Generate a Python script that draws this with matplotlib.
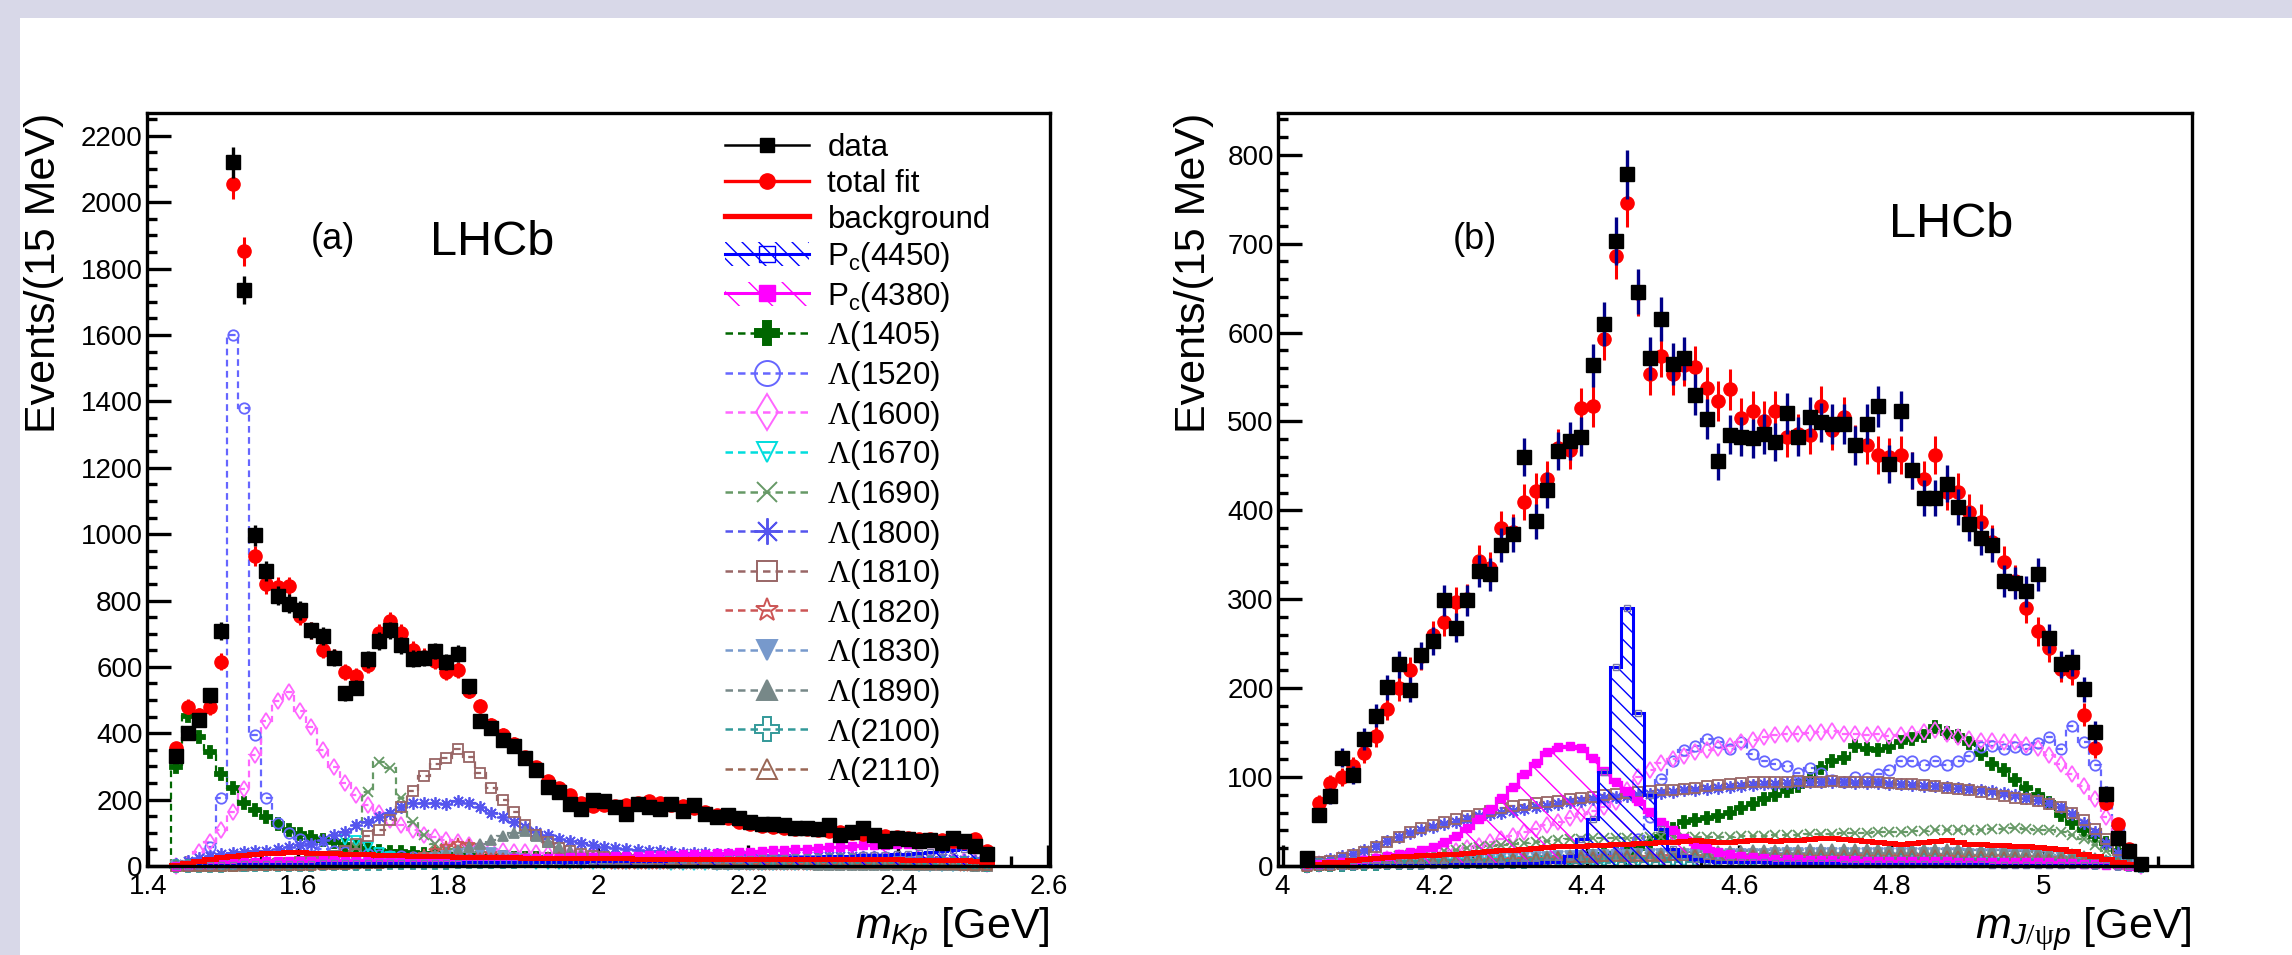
import numpy as np
import matplotlib
matplotlib.use("Agg")
import matplotlib.pyplot as plt
from matplotlib.patches import Patch, Rectangle
from matplotlib.lines import Line2D
from matplotlib.ticker import MultipleLocator, FuncFormatter

plt.rcParams['font.family'] = ['Liberation Sans', 'DejaVu Sans']
plt.rcParams['mathtext.fontset'] = 'custom'
plt.rcParams['mathtext.rm'] = 'Liberation Serif'
plt.rcParams['mathtext.it'] = 'Liberation Sans:italic'
plt.rcParams['mathtext.bf'] = 'Liberation Sans:bold'
plt.rcParams['hatch.linewidth'] = 1.0

# ---------------------------------------------------------------- binning
bin_width = 0.015          # GeV, 15 MeV bins
mkp_first_edge = 1.430     # m(Kp) histogram, 73 bins
mjpsip_first_edge = 4.025  # m(J/psi p) histogram, 74 bins

# ---------------------------------------------------------------- (a) m(Kp)
data_a = [330, 402, 440, 515, 708, 2120, 1735, 996, 890, 815,
          790, 770, 710, 693, 628, 520, 537, 623, 678, 710,
          665, 625, 627, 648, 615, 640, 541, 437, 415, 380,
          362, 325, 290, 238, 224, 188, 173, 198, 196, 177,
          158, 187, 178, 173, 186, 165, 184, 158, 147, 153,
          144, 134, 127, 126, 125, 116, 116, 112, 125, 92,
          103, 116, 92, 76, 84, 80, 75, 77, 70, 83,
          76, 60, 35]
fit_a = [355, 480, 455, 478, 616, 2055, 1852, 935, 849, 841,
         843, 754, 710, 651, 630, 585, 574, 605, 702, 738,
         702, 651, 631, 618, 585, 590, 528, 482, 426, 395,
         369, 328, 297, 256, 236, 215, 190, 180, 185, 180,
         185, 190, 195, 190, 185, 180, 174, 164, 154, 144,
         133, 128, 120, 118, 115, 112, 110, 107, 104, 101,
         99, 96, 93, 90, 87, 84, 82, 80, 78, 76,
         73, 82, 45]
bkg_a = [3, 10, 16, 22, 27, 31, 34, 37, 39, 40,
         41, 41, 40, 39, 38, 37, 36, 35, 34, 33,
         32, 31, 30, 30, 29, 28, 28, 27, 27, 26,
         26, 25, 25, 25, 24, 24, 24, 23, 23, 23,
         23, 22, 22, 22, 22, 22, 21, 21, 21, 21,
         21, 21, 21, 20, 20, 20, 20, 20, 20, 20,
         20, 20, 20, 20, 20, 19, 19, 19, 19, 18,
         17, 15, 8]
pc4450_a = [0, 1, 2, 3, 4, 4, 5, 5, 6, 6,
            7, 7, 7, 8, 8, 8, 8, 9, 9, 9,
            9, 10, 10, 10, 10, 10, 11, 11, 11, 11,
            12, 12, 12, 12, 13, 13, 13, 14, 14, 14,
            15, 15, 16, 16, 17, 17, 18, 18, 19, 20,
            21, 22, 23, 24, 25, 26, 27, 28, 29, 30,
            31, 32, 33, 34, 35, 37, 39, 41, 44, 47,
            51, 48, 25]
pc4380_a = [1, 3, 5, 7, 9, 11, 12, 13, 14, 15,
            15, 16, 16, 17, 17, 17, 18, 18, 18, 19,
            19, 19, 20, 20, 20, 21, 21, 21, 22, 22,
            23, 23, 24, 24, 25, 26, 26, 27, 28, 29,
            30, 31, 32, 33, 34, 35, 36, 37, 39, 40,
            42, 43, 45, 47, 48, 50, 52, 54, 56, 58,
            60, 62, 63, 64, 65, 66, 67, 68, 68, 67,
            66, 60, 30]
lam1405_a = [297, 452, 388, 344, 277, 236, 190, 169, 149, 128,
             108, 97, 87, 77, 72, 62, 56, 51, 46, 43,
             41, 39, 37, 35, 33, 31, 29, 28, 27, 26,
             25, 24, 23, 22, 21, 20, 19, 18, 18, 17,
             17, 16, 16, 15, 15, 14, 14, 13, 13, 13,
             12, 12, 12, 11, 11, 11, 10, 10, 10, 9,
             9, 9, 8, 8, 8, 7, 7, 6, 6, 5,
             5, 4, 2]
lam1520_a = [0, 0, 2, 56, 205, 1600, 1380, 395, 205, 130,
             100, 80, 60, 52, 46, 42, 38, 35, 33, 31,
             29, 27, 26, 25, 24, 23, 22, 21, 20, 20,
             19, 19, 18, 18, 17, 17, 16, 16, 15, 15,
             15, 14, 14, 14, 13, 13, 13, 12, 12, 12,
             11, 11, 11, 10, 10, 10, 10, 9, 9, 9,
             9, 8, 8, 8, 7, 7, 7, 6, 6, 5,
             5, 4, 2]
lam1600_a = [0, 5, 41, 71, 108, 162, 231, 333, 436, 497,
             523, 467, 420, 349, 297, 251, 215, 185, 159, 138,
             123, 108, 92, 87, 77, 72, 62, 55, 50, 46,
             43, 41, 39, 37, 36, 35, 34, 33, 32, 31,
             31, 30, 30, 29, 29, 28, 28, 27, 27, 26,
             26, 25, 25, 24, 24, 23, 23, 22, 22, 21,
             21, 20, 20, 19, 19, 18, 18, 17, 16, 15,
             14, 12, 7]
lam1670_a = [0, 0, 0, 1, 1, 2, 2, 3, 4, 5,
             6, 8, 11, 16, 30, 78, 74, 58, 40, 28,
             22, 18, 15, 13, 12, 11, 10, 9, 9, 8,
             8, 8, 7, 7, 7, 6, 6, 6, 6, 5,
             5, 5, 5, 5, 4, 4, 4, 4, 4, 4,
             3, 3, 3, 3, 3, 3, 3, 3, 2, 2,
             2, 2, 2, 2, 2, 2, 1, 1, 1, 1,
             1, 1, 0]
lam1690_a = [0, 0, 1, 2, 3, 4, 5, 6, 7, 8,
             9, 11, 13, 16, 20, 26, 58, 222, 312, 294,
             205, 133, 92, 67, 52, 42, 35, 30, 26, 23,
             20, 18, 17, 16, 15, 14, 13, 12, 12, 11,
             11, 10, 10, 10, 9, 9, 9, 8, 8, 8,
             8, 7, 7, 7, 7, 6, 6, 6, 6, 6,
             5, 5, 5, 5, 5, 4, 4, 4, 4, 3,
             3, 2, 1]
lam1800_a = [5, 15, 25, 31, 36, 38, 41, 44, 46, 51,
             56, 62, 67, 77, 92, 103, 123, 133, 149, 159,
             179, 190, 190, 190, 187, 195, 190, 179, 159, 149,
             133, 118, 103, 92, 82, 74, 68, 63, 58, 54,
             51, 48, 46, 44, 42, 40, 39, 38, 37, 36,
             35, 34, 33, 33, 32, 31, 31, 30, 30, 29,
             29, 28, 28, 27, 27, 26, 25, 24, 23, 21,
             18, 14, 8]
lam1810_a = [0, 0, 0, 1, 1, 2, 2, 3, 4, 6,
             8, 11, 15, 20, 30, 45, 65, 90, 108, 138,
             179, 226, 270, 306, 324, 352, 327, 280, 236, 200,
             163, 123, 92, 72, 55, 44, 36, 30, 26, 23,
             21, 19, 17, 16, 15, 14, 13, 12, 12, 11,
             10, 10, 9, 9, 8, 8, 8, 7, 7, 7,
             6, 6, 6, 5, 5, 5, 4, 4, 4, 3,
             3, 2, 1]
lam1820_a = [0, 0, 0, 0, 1, 1, 1, 2, 2, 2,
             3, 3, 4, 4, 5, 6, 7, 8, 10, 13,
             17, 23, 32, 45, 58, 66, 62, 48, 35, 26,
             20, 16, 13, 11, 10, 9, 9, 8, 8, 7,
             7, 7, 6, 6, 6, 6, 5, 5, 5, 5,
             5, 4, 4, 4, 4, 4, 4, 3, 3, 3,
             3, 3, 3, 3, 2, 2, 2, 2, 2, 2,
             1, 1, 1]
lam1830_a = [0, 0, 0, 0, 0, 1, 1, 1, 1, 2,
             2, 2, 3, 3, 4, 4, 5, 6, 7, 9,
             11, 14, 18, 23, 29, 35, 40, 42, 38, 31,
             25, 20, 16, 13, 11, 10, 9, 8, 8, 7,
             7, 6, 6, 6, 5, 5, 5, 5, 4, 4,
             4, 4, 4, 3, 3, 3, 3, 3, 3, 2,
             2, 2, 2, 2, 2, 2, 1, 1, 1, 1,
             1, 1, 0]
lam1890_a = [0, 0, 0, 0, 1, 1, 1, 2, 2, 3,
             3, 4, 5, 6, 7, 8, 10, 12, 14, 17,
             20, 24, 28, 33, 40, 48, 57, 67, 78, 90,
             98, 106, 90, 72, 57, 45, 36, 29, 24, 20,
             16, 14, 12, 11, 10, 9, 8, 8, 7, 7,
             6, 6, 6, 5, 5, 5, 5, 4, 4, 4,
             4, 4, 3, 3, 3, 3, 3, 3, 2, 2,
             2, 1, 1]
lam2100_a = [0, 0, 1, 1, 1, 2, 2, 2, 3, 3,
             3, 4, 4, 5, 5, 6, 6, 7, 7, 8,
             8, 9, 9, 10, 10, 11, 11, 12, 12, 13,
             13, 14, 14, 15, 15, 16, 16, 17, 17, 17,
             18, 18, 18, 18, 19, 19, 19, 19, 19, 19,
             19, 19, 19, 18, 18, 18, 17, 17, 17, 16,
             16, 15, 15, 14, 14, 13, 12, 11, 10, 9,
             8, 6, 3]
lam2110_a = [0, 0, 0, 1, 1, 1, 2, 2, 2, 3,
             3, 4, 4, 5, 6, 7, 8, 9, 10, 12,
             13, 15, 16, 18, 19, 21, 22, 23, 24, 25,
             26, 26, 27, 27, 27, 27, 27, 26, 26, 25,
             25, 24, 23, 22, 22, 21, 20, 19, 18, 17,
             17, 16, 15, 14, 14, 13, 12, 12, 11, 10,
             10, 9, 9, 8, 8, 7, 7, 6, 6, 5,
             4, 3, 2]

# ---------------------------------------------------------------- (b) m(J/psi p)
data_b = [9, 57, 79, 122, 102, 143, 169, 201, 227, 198,
          237, 253, 299, 268, 299, 332, 328, 361, 373, 460,
          388, 423, 467, 478, 483, 563, 610, 703, 778, 646,
          571, 615, 565, 571, 530, 503, 455, 485, 483, 481,
          486, 477, 509, 483, 505, 499, 497, 497, 473, 497,
          517, 452, 512, 445, 414, 414, 430, 404, 385, 369,
          361, 321, 318, 309, 328, 256, 227, 229, 199, 151,
          81, 32, 17, 2]
fit_b = [6, 71, 93, 100, 112, 127, 146, 177, 200, 220,
         236, 260, 275, 297, 300, 343, 335, 380, 376, 410,
         422, 435, 470, 468, 515, 517, 593, 686, 746, 644,
         553, 574, 553, 564, 561, 538, 523, 536, 504, 512,
         501, 512, 482, 486, 485, 517, 490, 505, 474, 474,
         462, 460, 462, 445, 435, 462, 421, 421, 398, 387,
         365, 342, 321, 290, 264, 245, 222, 218, 170, 133,
         71, 47, 19, 2]
bkg_b = [1, 2, 4, 5, 7, 8, 9, 10, 11, 11,
         12, 12, 13, 14, 15, 16, 17, 18, 18, 19,
         20, 21, 22, 23, 23, 24, 24, 25, 25, 26,
         26, 27, 27, 28, 29, 28, 27, 27, 28, 29,
         29, 28, 29, 29, 30, 31, 32, 30, 29, 28,
         27, 26, 25, 26, 27, 28, 29, 27, 25, 25,
         24, 24, 23, 22, 21, 20, 19, 17, 14, 11,
         8, 5, 2, 0]
pc4450_b = [0, 0, 0, 0, 0, 1, 1, 1, 1, 1,
            1, 1, 1, 2, 2, 2, 2, 2, 3, 3,
            3, 4, 5, 11, 30, 53, 106, 224, 290, 172,
            80, 42, 19, 11, 8, 6, 5, 5, 4, 4,
            4, 3, 3, 3, 3, 3, 3, 2, 2, 2,
            2, 2, 2, 2, 2, 2, 2, 2, 2, 2,
            1, 1, 1, 1, 1, 1, 1, 1, 1, 1,
            1, 0, 0, 0]
pc4380_b = [1, 2, 3, 4, 5, 7, 9, 11, 13, 16,
            18, 21, 27, 34, 43, 53, 64, 76, 89, 103,
            116, 128, 134, 135, 133, 121, 107, 94, 84, 73,
            61, 49, 40, 31, 25, 20, 16, 13, 11, 10,
            9, 8, 8, 8, 7, 7, 7, 7, 7, 6,
            6, 6, 6, 6, 6, 6, 6, 5, 5, 5,
            5, 5, 4, 4, 4, 4, 3, 3, 2, 2,
            1, 1, 0, 0]
lam1405_b = [0, 1, 1, 1, 2, 2, 2, 3, 3, 3,
             4, 4, 4, 5, 5, 5, 6, 6, 6, 7,
             7, 8, 8, 9, 10, 11, 12, 14, 16, 20,
             26, 33, 42, 49, 52, 54, 56, 60, 65, 70,
             75, 80, 84, 90, 98, 110, 118, 122, 135, 132,
             131, 134, 140, 143, 146, 156, 150, 146, 138, 126,
             115, 108, 97, 88, 80, 71, 57, 48, 40, 34,
             26, 17, 8, 0]
lam1520_b = [2, 3, 3, 3, 4, 4, 4, 4, 5, 5,
             5, 5, 5, 6, 6, 6, 6, 6, 7, 7,
             7, 8, 8, 8, 9, 10, 12, 15, 20, 30,
             55, 98, 118, 130, 135, 143, 140, 132, 139, 126,
             118, 115, 112, 105, 110, 105, 97, 95, 100, 99,
             103, 108, 118, 118, 114, 118, 114, 118, 124, 134,
             135, 132, 134, 132, 138, 145, 132, 158, 140, 114,
             80, 45, 15, 0]
lam1600_b = [1, 2, 3, 4, 5, 6, 7, 8, 9, 10,
             11, 13, 15, 17, 20, 23, 27, 30, 34, 38,
             42, 46, 50, 54, 58, 62, 66, 72, 85, 100,
             108, 116, 120, 124, 128, 130, 133, 135, 140, 142,
             145, 147, 148, 148, 150, 151, 152, 149, 148, 147,
             148, 146, 147, 149, 151, 153, 149, 145, 143, 141,
             141, 140, 139, 136, 133, 125, 115, 103, 90, 75,
             55, 32, 12, 0]
lam1670_b = [0, 1, 1, 1, 1, 2, 2, 2, 2, 2,
             3, 3, 3, 3, 3, 3, 4, 4, 4, 4,
             4, 4, 4, 4, 5, 5, 5, 5, 5, 5,
             5, 5, 5, 5, 5, 5, 5, 5, 5, 5,
             5, 5, 5, 5, 5, 5, 5, 5, 5, 5,
             5, 5, 5, 5, 5, 5, 5, 5, 4, 4,
             4, 4, 4, 4, 4, 3, 3, 3, 3, 2,
             2, 1, 1, 0]
lam1690_b = [1, 2, 3, 4, 5, 6, 8, 9, 11, 12,
             14, 15, 17, 18, 20, 21, 22, 24, 25, 26,
             27, 28, 29, 30, 30, 31, 31, 32, 32, 32,
             33, 33, 33, 33, 33, 33, 33, 33, 34, 34,
             34, 35, 35, 35, 36, 36, 36, 37, 37, 37,
             38, 38, 38, 39, 39, 40, 40, 40, 41, 41,
             42, 42, 43, 42, 41, 40, 38, 35, 30, 24,
             17, 10, 4, 0]
lam1800_b = [3, 5, 8, 11, 14, 18, 23, 28, 33, 37,
             41, 44, 47, 50, 53, 56, 58, 60, 62, 64,
             66, 68, 70, 72, 73, 75, 76, 78, 79, 80,
             81, 82, 83, 85, 86, 87, 88, 89, 90, 91,
             92, 92, 93, 93, 94, 94, 94, 94, 93, 93,
             93, 92, 92, 91, 90, 90, 89, 88, 87, 85,
             84, 82, 80, 77, 74, 71, 66, 58, 48, 38,
             26, 15, 6, 0]
lam1810_b = [2, 4, 6, 9, 12, 16, 21, 27, 33, 38,
             43, 46, 49, 53, 56, 59, 62, 65, 67, 69,
             71, 72, 73, 75, 76, 78, 80, 81, 82, 83,
             84, 85, 86, 87, 88, 90, 91, 92, 93, 94,
             95, 95, 95, 96, 95, 95, 96, 95, 94, 95,
             94, 93, 92, 92, 91, 90, 88, 87, 85, 83,
             81, 79, 77, 75, 73, 70, 66, 60, 52, 42,
             30, 18, 7, 0]
lam1820_b = [0, 1, 1, 2, 2, 2, 3, 3, 3, 4,
             4, 4, 5, 5, 5, 6, 6, 6, 7, 7,
             7, 7, 8, 8, 8, 8, 9, 9, 9, 9,
             9, 10, 10, 10, 10, 10, 10, 10, 10, 10,
             11, 11, 11, 11, 11, 11, 11, 11, 11, 11,
             11, 11, 11, 11, 11, 11, 11, 10, 10, 10,
             10, 10, 9, 9, 9, 8, 8, 7, 6, 5,
             4, 3, 1, 0]
lam1830_b = [0, 1, 1, 2, 2, 3, 3, 4, 4, 5,
             5, 6, 6, 7, 7, 8, 8, 9, 9, 10,
             10, 10, 11, 11, 11, 12, 12, 12, 12, 13,
             13, 13, 13, 13, 14, 14, 14, 14, 14, 14,
             14, 15, 15, 15, 15, 15, 15, 15, 15, 15,
             15, 15, 15, 15, 15, 15, 15, 15, 14, 14,
             14, 14, 13, 13, 13, 12, 11, 10, 9, 7,
             5, 3, 1, 0]
lam1890_b = [0, 1, 1, 2, 2, 3, 3, 4, 4, 5,
             5, 6, 6, 7, 7, 8, 8, 9, 9, 10,
             10, 11, 11, 12, 12, 13, 13, 14, 14, 15,
             15, 15, 16, 16, 16, 17, 17, 17, 17, 18,
             18, 18, 18, 18, 19, 19, 19, 19, 19, 19,
             19, 19, 19, 19, 19, 19, 19, 19, 18, 18,
             18, 18, 17, 17, 16, 15, 14, 13, 11, 9,
             7, 4, 2, 0]
lam2100_b = [0, 1, 1, 1, 2, 2, 2, 3, 3, 3,
             3, 4, 4, 4, 4, 5, 5, 5, 5, 5,
             6, 6, 6, 6, 6, 6, 6, 7, 7, 7,
             7, 7, 7, 7, 7, 7, 7, 7, 7, 7,
             7, 7, 7, 7, 7, 7, 7, 7, 7, 7,
             7, 7, 7, 7, 7, 7, 7, 7, 6, 6,
             6, 6, 6, 6, 5, 5, 5, 4, 4, 3,
             3, 2, 1, 0]
lam2110_b = [0, 1, 1, 2, 2, 3, 3, 4, 4, 5,
             5, 6, 6, 7, 7, 7, 8, 8, 8, 9,
             9, 9, 10, 10, 10, 10, 11, 11, 11, 11,
             11, 11, 12, 12, 12, 12, 12, 12, 12, 12,
             12, 12, 12, 12, 12, 12, 12, 12, 12, 12,
             12, 12, 12, 12, 12, 12, 11, 11, 11, 11,
             10, 10, 10, 9, 9, 8, 8, 7, 6, 5,
             4, 3, 1, 0]

lambda_names = ['1405', '1520', '1600', '1670', '1690', '1800',
                '1810', '1820', '1830', '1890', '2100', '2110']
lambdas_a = [lam1405_a, lam1520_a, lam1600_a, lam1670_a, lam1690_a, lam1800_a,
             lam1810_a, lam1820_a, lam1830_a, lam1890_a, lam2100_a, lam2110_a]
lambdas_b = [lam1405_b, lam1520_b, lam1600_b, lam1670_b, lam1690_b, lam1800_b,
             lam1810_b, lam1820_b, lam1830_b, lam1890_b, lam2100_b, lam2110_b]

# ---------------------------------------------------------------- styles
LAMBDA_STYLE = {
    '1405': dict(color='#006600', marker='P', filled=True, ms=8, legend_ms=17),
    '1520': dict(color='#6666ff', marker='o', filled=False, ms=7.5, legend_ms=18),
    '1600': dict(color='#ff66ff', marker='d', filled=False, ms=8, legend_ms=18),
    '1670': dict(color='#00dddd', marker='v', filled=False, ms=7, legend_ms=15),
    '1690': dict(color='#669966', marker='x', filled=False, ms=7, legend_ms=14),
    '1800': dict(color='#5555ee', marker=(8, 2, 0), filled=False, ms=9, legend_ms=19),
    '1810': dict(color='#996666', marker='s', filled=False, ms=7, legend_ms=15),
    '1820': dict(color='#cc5555', marker='*', filled=False, ms=9, legend_ms=17),
    '1830': dict(color='#7799cc', marker='v', filled=True, ms=7, legend_ms=14),
    '1890': dict(color='#778888', marker='^', filled=True, ms=7, legend_ms=14),
    '2100': dict(color='#339999', marker='P', filled=False, ms=8, legend_ms=17),
    '2110': dict(color='#996655', marker='^', filled=False, ms=7, legend_ms=15),
}
DASH = (0, (3, 2))
PC4450_COLOR = '#0000ff'
PC4380_COLOR = '#ff00ff'


def draw_panel(ax, first_edge, data, fit, bkg, pc4450, pc4380, lambdas, err_color):
    nbins = len(data)
    edges = first_edge + bin_width * np.arange(nbins + 1)
    centers = 0.5 * (edges[:-1] + edges[1:])

    for name, vals in zip(lambda_names, lambdas):
        st = LAMBDA_STYLE[name]
        ax.stairs(vals, edges, color=st['color'], ls=DASH, lw=1.6, zorder=2)
        ax.plot(centers, vals, ls='none', marker=st['marker'], ms=st['ms'],
                mec=st['color'], mfc=st['color'] if st['filled'] else 'none',
                mew=1.3, zorder=2.1, clip_on=False)

    # P_c(4380): sparse hatch, magenta outline, filled squares
    ax.stairs(pc4380, edges, fill=True, facecolor='none', edgecolor=PC4380_COLOR,
              hatch='\\', lw=0, zorder=2.5)
    ax.stairs(pc4380, edges, color=PC4380_COLOR, lw=2.4, zorder=3)
    ax.plot(centers, pc4380, ls='none', marker='s', ms=5.5, color=PC4380_COLOR,
            zorder=3, clip_on=False)

    # P_c(4450): dense hatch, blue outline
    ax.stairs(pc4450, edges, fill=True, facecolor='none', edgecolor=PC4450_COLOR,
              hatch='\\\\', lw=0, zorder=2.6)
    ax.stairs(pc4450, edges, color=PC4450_COLOR, lw=2.2, zorder=3.1)
    ax.plot(centers, pc4450, ls='none', marker='s', ms=4, mfc='none',
            mec='#7777aa', mew=1.0, zorder=3.1, clip_on=False)

    # background
    ax.stairs(bkg, edges, color='#ff0000', lw=3.6, zorder=3.5)

    fit = np.asarray(fit, float)
    data = np.asarray(data, float)
    ax.errorbar(centers, fit, yerr=np.sqrt(fit), fmt='o', color='#ff0000', ms=9.5,
                elinewidth=2.2, capsize=0, zorder=4, clip_on=False)
    ax.errorbar(centers, data, yerr=np.sqrt(data), fmt='s', mfc='black', mec='black',
                ecolor=err_color, ms=9.5, elinewidth=2.4, capsize=0, zorder=5,
                clip_on=False)


def style_axes(ax, xlim, ylim, xmajor, ymajor, yminor):
    ax.set_xlim(*xlim)
    ax.set_ylim(*ylim)
    ax.xaxis.set_major_locator(MultipleLocator(xmajor))
    ax.xaxis.set_minor_locator(MultipleLocator(0.05))
    ax.yaxis.set_major_locator(MultipleLocator(ymajor))
    ax.yaxis.set_minor_locator(MultipleLocator(yminor))
    fmt = FuncFormatter(lambda v, p: '%g' % round(v, 6))
    ax.xaxis.set_major_formatter(fmt)
    ax.yaxis.set_major_formatter(fmt)
    for sp in ax.spines.values():
        sp.set_linewidth(2.4)
        sp.set_zorder(6)
    ax.tick_params(which='both', direction='in', top=False, right=False,
                   width=2.4, labelsize=20, colors='black')
    ax.tick_params(axis='y', which='major', length=17, pad=3)
    ax.tick_params(axis='y', which='minor', length=7)
    ax.tick_params(axis='x', which='major', length=15, pad=6)
    ax.tick_params(axis='x', which='minor', length=7)


W, H = 2292, 955
fig = plt.figure(figsize=(W / 100, H / 100), dpi=100)
fig.patch.set_facecolor('#d8d8e8')
fig.add_artist(Rectangle((20 / W, 0), 1, 1 - 18 / H, transform=fig.transFigure,
                         facecolor='white', edgecolor='none', zorder=-5))

ax_a = fig.add_axes([146.7 / W, 89 / H, 903.3 / W, 753 / H])
ax_b = fig.add_axes([1278 / W, 89 / H, 914 / W, 753 / H])

draw_panel(ax_a, mkp_first_edge, data_a, fit_a, bkg_a, pc4450_a, pc4380_a,
           lambdas_a, 'black')
draw_panel(ax_b, mjpsip_first_edge, data_b, fit_b, bkg_b, pc4450_b, pc4380_b,
           lambdas_b, '#000088')

style_axes(ax_a, (1.398, 2.602), (0, 2269), 0.2, 200, 50)
style_axes(ax_b, (3.994, 5.195), (0, 847), 0.2, 100, 20)

# panel captions
ax_a.text(1.617, 1859, '(a)', fontsize=26, ha='left', va='baseline')
ax_a.text(1.775, 1841, 'LHCb', fontsize=35, ha='left', va='baseline')
ax_b.text(4.223, 694, '(b)', fontsize=26, ha='left', va='baseline')
ax_b.text(4.797, 707, 'LHCb', fontsize=35, ha='left', va='baseline')

# axis titles
for xc in (44, 1193.7):
    fig.text(xc / W, 1 - 112.7 / H, 'Events/(15 MeV)', rotation=90,
             fontsize=31, ha='center', va='top')
fig.text(1050 / W, (H - 938.4) / H, r'$m_{Kp}$ [GeV]', fontsize=31,
         ha='right', va='baseline')
fig.text(2192 / W, (H - 938.4) / H, r'$m_{J/\mathrm{\psi}p}$ [GeV]', fontsize=31,
         ha='right', va='baseline')

# legend
handles = [
    Line2D([], [], color='black', lw=1.8, marker='s', ms=10),
    Line2D([], [], color='#ff0000', lw=2.4, marker='o', ms=11),
    Line2D([], [], color='#ff0000', lw=3.8),
    (Patch(facecolor='none', edgecolor=PC4450_COLOR, hatch='\\\\', lw=0),
     Line2D([], [], color=PC4450_COLOR, lw=2.2, marker='s', ms=11, mfc='none')),
    (Patch(facecolor='none', edgecolor=PC4380_COLOR, hatch='\\', lw=0),
     Line2D([], [], color=PC4380_COLOR, lw=2.2, marker='s', ms=11)),
]
labels = ['data', 'total fit', 'background',
          r'P$_\mathregular{c}$(4450)', r'P$_\mathregular{c}$(4380)']
for name in lambda_names:
    st = LAMBDA_STYLE[name]
    handles.append(Line2D([], [], color=st['color'], ls=DASH, lw=1.8,
                          marker=st['marker'], ms=st['legend_ms'], mec=st['color'],
                          mfc=st['color'] if st['filled'] else 'none', mew=1.4))
    labels.append(r'$\mathrm{\Lambda}$(' + name + ')')

ax_a.legend(handles, labels, loc='upper left', bbox_to_anchor=(0.6402, 0.973),
            frameon=False, fontsize=22.5, borderpad=0, borderaxespad=0,
            handlelength=2.68, handleheight=0.8, handletextpad=0.6,
            labelspacing=0.18, numpoints=1)

fig.savefig('out.png', dpi=100, facecolor=fig.get_facecolor())
